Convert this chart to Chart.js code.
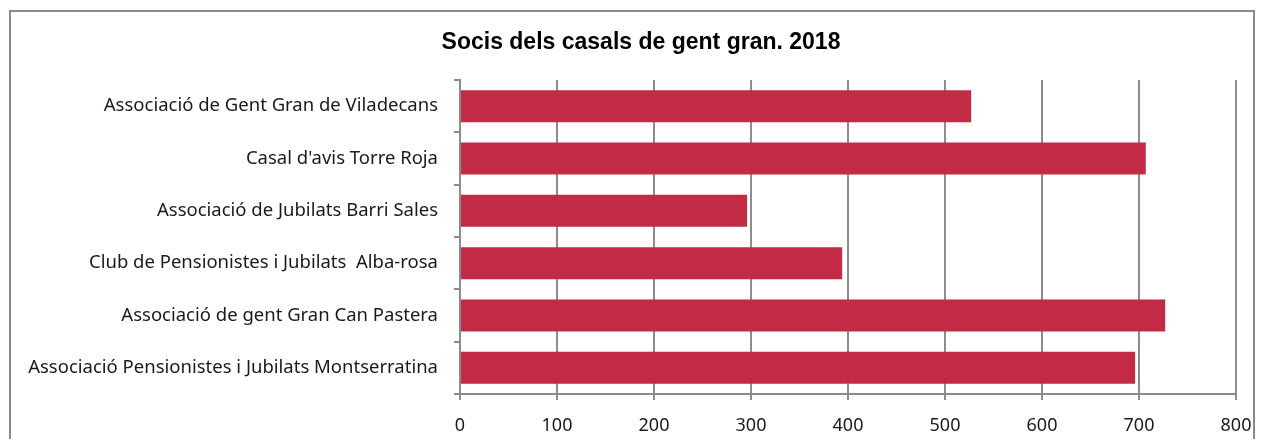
<!DOCTYPE html>
<html>
<head>
<meta charset="utf-8">
<script src="https://cdn.jsdelivr.net/npm/chart.js@4"></script>
<style>
  body { margin: 0; background: #fff; }
  #wrap { width: 1264px; height: 439px; }
</style>
</head>
<body>
<div id="wrap"><canvas id="casalsChart" width="1264" height="439"></canvas></div>
<script>
const casals = [
  'Associació de Gent Gran de Viladecans',
  "Casal d'avis Torre Roja",
  'Associació de Jubilats Barri Sales',
  'Club de Pensionistes i Jubilats  Alba-rosa',
  'Associació de gent Gran Can Pastera',
  'Associació Pensionistes i Jubilats Montserratina'
];
const socis = [527, 707, 296, 394, 727, 696];
const titleText = 'Socis dels casals de gent gran. 2018';

const gridGray = '#8c8c8c';

// outer frame and the title (title sits off-centre from the plot, like the original)
const frame = {
  id: 'frame',
  beforeDraw(chart) {
    const ctx = chart.ctx;
    ctx.save();
    ctx.strokeStyle = '#8a8a8a';
    ctx.lineWidth = 2;
    ctx.strokeRect(10, 11, 1244, 440);
    ctx.restore();
  },
  afterDraw(chart) {
    const ctx = chart.ctx;
    ctx.save();
    ctx.fillStyle = '#000';
    ctx.font = 'bold 23px "Liberation Sans"';
    ctx.textAlign = 'center';
    ctx.textBaseline = 'middle';
    ctx.fillText(titleText, 641, 43);
    ctx.restore();
  }
};

const ctx = document.getElementById('casalsChart').getContext('2d');
const casalsChart = new Chart(ctx, {
  type: 'bar',
  data: {
    labels: casals,
    datasets: [{
      data: socis,
      backgroundColor: '#c22a46',
      borderWidth: 0,
      categoryPercentage: 1,
      barPercentage: 0.61
    }]
  },
  options: {
    indexAxis: 'y',
    responsive: false,
    animation: false,
    layout: {
      padding: { left: 10, right: 28, top: 80, bottom: 0 }
    },
    plugins: {
      legend: { display: false },
      tooltip: { enabled: false },
      title: { display: false }
    },
    scales: {
      x: {
        min: 0,
        max: 800,
        ticks: {
          stepSize: 100,
          color: '#1a1a1a',
          font: { family: 'Noto Sans', size: 18 },
          padding: 15
        },
        grid: {
          color: gridGray,
          lineWidth: 2,
          tickLength: 6
        },
        border: { color: gridGray, width: 2 },
        afterFit(scale) {
          scale.height = 45;
          scale.paddingRight = 0;
          scale.paddingLeft = 0;
        }
      },
      y: {
        ticks: {
          color: '#1a1a1a',
          font: { family: 'Noto Sans', size: 18.5 },
          padding: 16
        },
        grid: {
          drawOnChartArea: false,
          color: gridGray,
          lineWidth: 2,
          tickLength: 6
        },
        border: { color: gridGray, width: 2 },
        afterFit(scale) { scale.width = 450; }
      }
    }
  },
  plugins: [frame]
});
</script>
</body>
</html>
